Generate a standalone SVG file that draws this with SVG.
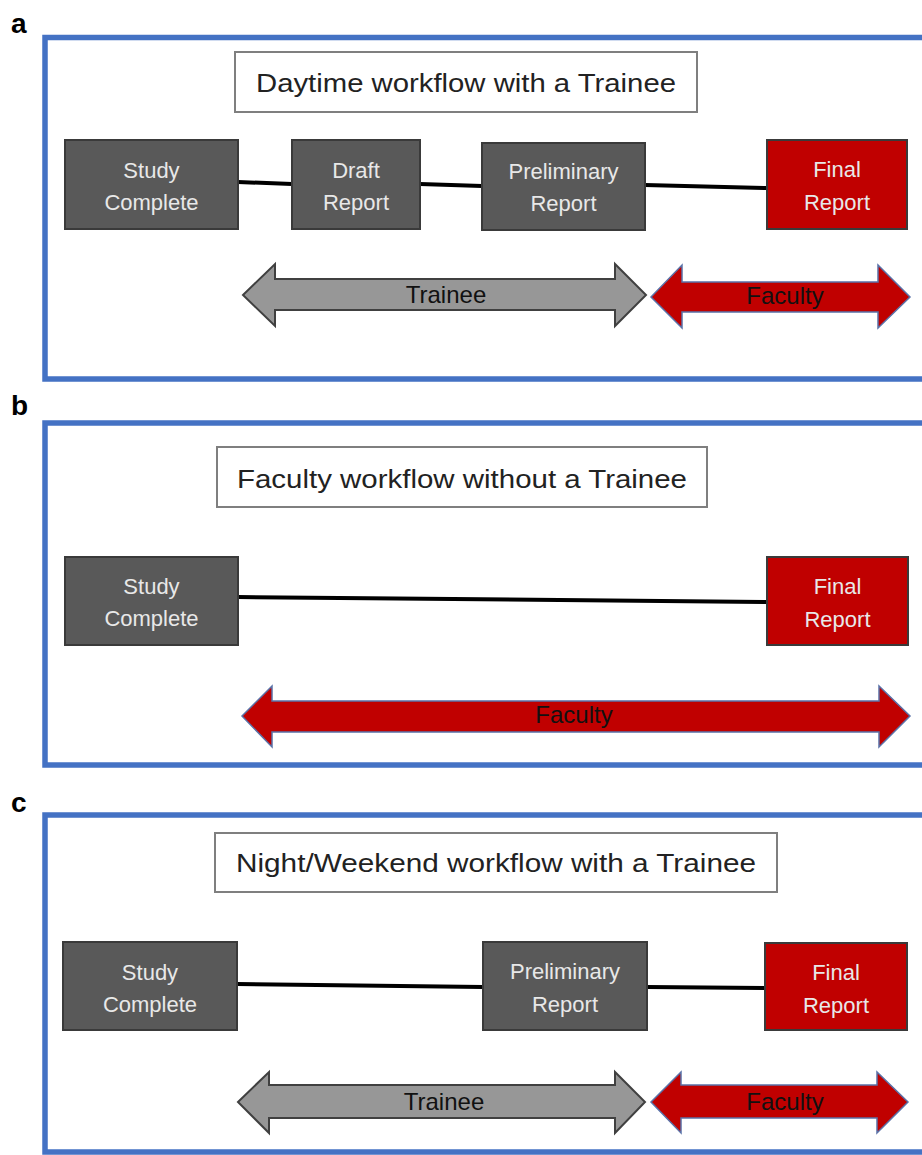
<svg xmlns="http://www.w3.org/2000/svg" width="922" height="1155" viewBox="0 0 922 1155">
<style>
.frame{fill:none;stroke:#4472c4;stroke-width:5.5}
.lbl{font-family:"Liberation Sans",Arial,sans-serif;font-weight:bold;font-size:28px;fill:#000}
.tbox{fill:#fff;stroke:#7f7f7f;stroke-width:2}
.ttl{font-family:"Liberation Sans",Arial,sans-serif;font-size:25px;fill:#222;text-anchor:middle}
.gnode{fill:#595959;stroke:#3a3a3a;stroke-width:2}
.rnode{fill:#c00000;stroke:#3a3a3a;stroke-width:2}
.ntxt{font-family:"Liberation Sans",Arial,sans-serif;font-size:22px;fill:#e8e8e8;text-anchor:middle}
.conn{stroke:#000;stroke-width:4;fill:none}
.tarr{fill:#979797;stroke:#404040;stroke-width:2;stroke-linejoin:miter}
.farr{fill:#c00000;stroke:#5a72a8;stroke-width:1.5;stroke-linejoin:miter}
.atxt{font-family:"Liberation Sans",Arial,sans-serif;font-size:24px;fill:#111;text-anchor:middle}
</style>

<!-- Panel frames and labels -->
<g id="panel-a">
<rect class="frame" x="45" y="37.5" width="900" height="341.5"/>
<text class="lbl" x="11" y="33">a</text>
</g>
<g id="panel-b">
<rect class="frame" x="45" y="423" width="900" height="342"/>
<text class="lbl" x="11" y="415">b</text>
</g>
<g id="panel-c">
<rect class="frame" x="45" y="815" width="900" height="337"/>
<text class="lbl" x="11" y="812">c</text>
</g>

<!-- Connectors -->
<g id="connectors">
<line class="conn" x1="238" y1="182" x2="292" y2="184"/>
<line class="conn" x1="420" y1="184" x2="482" y2="186"/>
<line class="conn" x1="645" y1="185" x2="767" y2="188"/>
<line class="conn" x1="238" y1="597" x2="767" y2="602"/>
<line class="conn" x1="237" y1="984" x2="483" y2="987"/>
<line class="conn" x1="647" y1="987" x2="765" y2="988"/>
</g>

<!-- Panel a -->
<g id="title-a">
<rect class="tbox" x="235" y="52" width="462" height="60"/>
<text class="ttl" x="466" y="92" textLength="420" lengthAdjust="spacingAndGlyphs">Daytime workflow  with a Trainee</text>
</g>
<g id="a-study">
<rect class="gnode" x="65" y="140" width="173" height="89"/>
<text class="ntxt" x="151.5" y="178">Study</text>
<text class="ntxt" x="151.5" y="210">Complete</text>
</g>
<g id="a-draft">
<rect class="gnode" x="292" y="140" width="128" height="89"/>
<text class="ntxt" x="356" y="178">Draft</text>
<text class="ntxt" x="356" y="210">Report</text>
</g>
<g id="a-prelim">
<rect class="gnode" x="482" y="143" width="163" height="87"/>
<text class="ntxt" x="563.5" y="179">Preliminary</text>
<text class="ntxt" x="563.5" y="211">Report</text>
</g>
<g id="a-final">
<rect class="rnode" x="767" y="140" width="140" height="89"/>
<text class="ntxt" x="837" y="177">Final</text>
<text class="ntxt" x="837" y="210">Report</text>
</g>
<g id="a-trainee">
<polygon class="tarr" points="243,295 275,264 275,279 615,279 615,264 646,295 615,326 615,310 275,310 275,326"/>
<text class="atxt" x="446" y="303">Trainee</text>
</g>
<g id="a-faculty">
<polygon class="farr" points="651,297 682,265 682,282 878,282 878,265 910,297 878,328 878,312 682,312 682,328"/>
<text class="atxt" x="785" y="304">Faculty</text>
</g>

<!-- Panel b -->
<g id="title-b">
<rect class="tbox" x="217" y="447" width="490" height="60"/>
<text class="ttl" x="462" y="488" textLength="450" lengthAdjust="spacingAndGlyphs">Faculty workflow  without  a Trainee</text>
</g>
<g id="b-study">
<rect class="gnode" x="65" y="557" width="173" height="88"/>
<text class="ntxt" x="151.5" y="594">Study</text>
<text class="ntxt" x="151.5" y="626">Complete</text>
</g>
<g id="b-final">
<rect class="rnode" x="767" y="557" width="141" height="88"/>
<text class="ntxt" x="837.5" y="594">Final</text>
<text class="ntxt" x="837.5" y="627">Report</text>
</g>
<g id="b-faculty">
<polygon class="farr" points="242,716 272,686 272,701 879,701 879,686 910,716 879,747 879,732 272,732 272,747"/>
<text class="atxt" x="574" y="723">Faculty</text>
</g>

<!-- Panel c -->
<g id="title-c">
<rect class="tbox" x="215" y="833" width="562" height="59"/>
<text class="ttl" x="496" y="872" textLength="520" lengthAdjust="spacingAndGlyphs">Night/Weekend workflow  with a Trainee</text>
</g>
<g id="c-study">
<rect class="gnode" x="63" y="942" width="174" height="88"/>
<text class="ntxt" x="150" y="980">Study</text>
<text class="ntxt" x="150" y="1012">Complete</text>
</g>
<g id="c-prelim">
<rect class="gnode" x="483" y="942" width="164" height="88"/>
<text class="ntxt" x="565" y="979">Preliminary</text>
<text class="ntxt" x="565" y="1012">Report</text>
</g>
<g id="c-final">
<rect class="rnode" x="765" y="943" width="142" height="87"/>
<text class="ntxt" x="836" y="980">Final</text>
<text class="ntxt" x="836" y="1013">Report</text>
</g>
<g id="c-trainee">
<polygon class="tarr" points="238,1102 269,1072 269,1085 615,1085 615,1072 645,1102 615,1133 615,1118 269,1118 269,1133"/>
<text class="atxt" x="444" y="1110">Trainee</text>
</g>
<g id="c-faculty">
<polygon class="farr" points="651,1102 681,1072 681,1085 877,1085 877,1072 908,1102 877,1133 877,1118 681,1118 681,1133"/>
<text class="atxt" x="785" y="1110">Faculty</text>
</g>
</svg>
